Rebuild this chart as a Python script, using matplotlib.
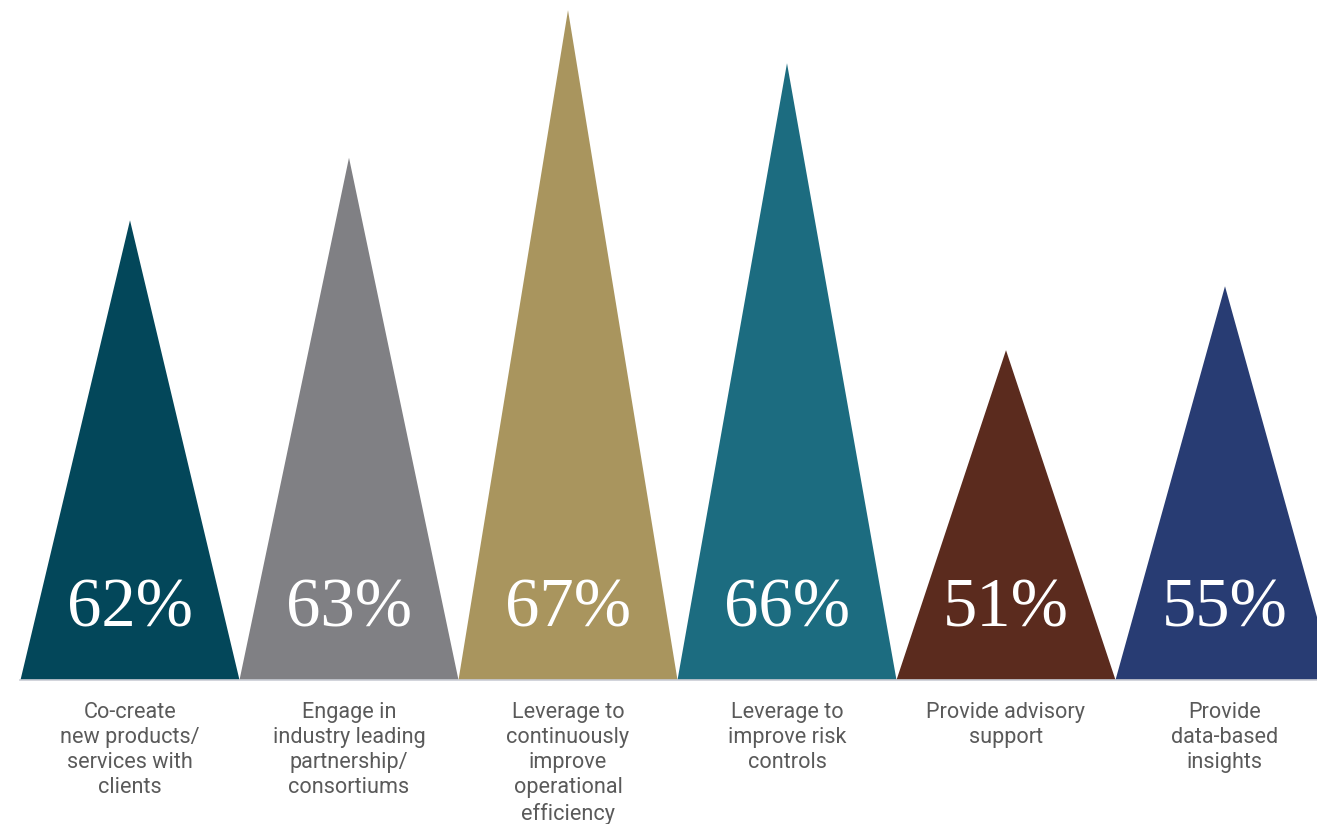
import matplotlib.pyplot as plt
from matplotlib.patches import Polygon

# data
categories = ['Co-create\nnew products/\nservices with\nclients',
              'Engage in\nindustry leading\npartnership/\nconsortiums',
              'Leverage to\ncontinuously\nimprove\noperational\nefficiency',
              'Leverage to\nimprove risk\ncontrols',
              'Provide advisory\nsupport',
              'Provide\ndata-based\ninsights']
percents = [62, 63, 67, 66, 51, 55]
# apex height of each triangle as drawn (0-100 scale of the plot area)
peaks = [67.6, 76.8, 98.5, 90.7, 48.5, 57.9]
colors = ['#03475a', '#808084', '#a9955e', '#1c6c80', '#5b2b1e', '#283c73']

fig = plt.figure(figsize=(13.17, 8.24), dpi=100)
ax = fig.add_axes([0, 0, 1, 1])
ax.set_xlim(-130 / 219, (1317 - 130) / 219)
ax.set_ylim(-144 / 6.8, 100)
ax.axis('off')

for i, (p, h, c) in enumerate(zip(percents, peaks, colors)):
    tri = Polygon([(i - 0.5, 0), (i, h), (i + 0.5, 0)], closed=True,
                  facecolor=c, edgecolor='none')
    ax.add_patch(tri)
    ax.text(i, 10.3, '%d%%' % p, ha='center', va='center', color='white',
            fontsize=49.5, family='Liberation Serif')
    ax.text(i, -3.2, categories[i], ha='center', va='top', color='#5a5a5a',
            fontsize=15.6, family='Roboto', linespacing=1.26)

ax.plot([-0.5, len(percents)], [0, 0], color='#c9ccd4', lw=1.2)

fig.savefig('out.png', dpi=100)
